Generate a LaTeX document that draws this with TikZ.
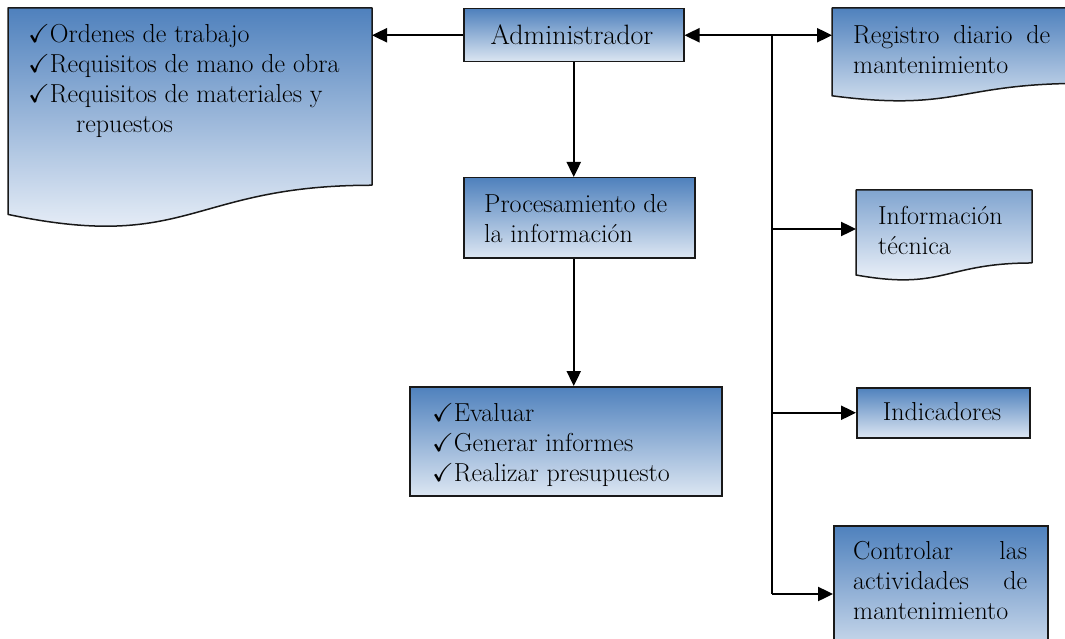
\documentclass[tikz,border=0pt]{standalone}
\usepackage{fontspec}
\usepackage{amssymb}
\usetikzlibrary{arrows.meta,calc}

\definecolor{topblue}{RGB}{79,129,189}
\definecolor{lightblue}{RGB}{220,230,242}
\definecolor{paleblue}{RGB}{247,249,253}
\definecolor{edge}{RGB}{25,25,25}

\newcommand\ck{$\checkmark$}
\newcommand\firstline{\rule{0pt}{19pt}}
% document shape (wavy bottom) drawn over the frame of a named node
\newcommand\docshape[3]{%
  \draw[docline, top color=#2, bottom color=#3]
    (#1.north west) -- (#1.north east)
    -- ($(#1.north east)!0.802!(#1.south east)$)
    .. controls ($(#1.north)!0.802!(#1.south)$) and ($(#1.north)!1.1075!(#1.south)$)
    .. ($(#1.north west)!0.934!(#1.south west)$) -- cycle;}

\tikzset{
  box/.style={draw=edge, line width=1.5pt, top color=topblue, bottom color=lightblue,
              inner sep=0pt, anchor=north west},
  frame/.style={draw=none, inner sep=0pt, outer sep=0pt, anchor=north west},
  docline/.style={draw=edge, line width=1.5pt, line join=round},
  tip/.tip={Triangle[length=15pt,width=14pt]},
  conn/.style={line width=2.4pt, -tip},
  trunk/.style={line width=2.4pt},
  txt/.style={font=\fontsize{26}{30}\selectfont, inner sep=0pt, align=left, anchor=north west},
}

\begin{document}
\begin{tikzpicture}[x=1pt,y=-1pt]
\useasboundingbox (0,0) rectangle (1065,639);
\clip (0,0) rectangle (1065,639);

% frames of the document-shaped blocks
\node[frame, minimum width=364pt, minimum height=221pt] (ord) at (8,8) {};
\node[frame, minimum width=250pt, minimum height=94pt] (reg) at (832,8) {};
\node[frame, minimum width=176pt, minimum height=91pt] (info) at (856,190) {};
\docshape{ord}{topblue}{paleblue}
\docshape{reg}{topblue}{lightblue}
\docshape{info}{topblue!65!lightblue}{paleblue}

% rectangular blocks
\node[box, minimum width=220pt, minimum height=53pt] (adm) at (463,8) {};
\node[box, minimum width=231pt, minimum height=80pt] (proc) at (463,177) {};
\node[box, minimum width=312pt, minimum height=109pt] (eval) at (409,386) {};
\node[box, minimum width=173pt, minimum height=50pt] (ind) at (856,387) {};
\node[box, minimum width=214pt, minimum height=140pt] (ctl) at (833,525) {};

% texts
\node[txt] (tord) at (28,23) {\firstline\ck Ordenes de trabajo\\
  \ck Requisitos de mano de obra\\
  \ck Requisitos de materiales y\\
  \hspace*{48pt}repuestos};
\node[txt, anchor=base, font=\fontsize{28}{30}\selectfont] (tadm) at (572,45) {Administrador};
\node[txt] (tproc) at (484,193) {\firstline Procesamiento de\\la información};
\node[txt] (teval) at (432,402) {\firstline\ck Evaluar\\\ck Generar informes\\\ck Realizar presupuesto};
\node[txt, text width=197pt] (treg) at (853,24) {\firstline Registro\hfill diario\hfill de\\mantenimiento};
\node[txt] (tinfo) at (878,205) {\firstline Información\\técnica};
\node[txt, anchor=base] (tind) at (942,420) {Indicadores};
\node[txt, text width=174pt] (tctl) at (853,540) {\firstline Controlar\hfill las\\actividades\hfill de\\mantenimiento};

% connectors
\coordinate (b0) at (772,36);
\coordinate (b1) at (772,229);
\coordinate (b3) at (772,594);
\draw[conn] (adm.west) -- (adm.west -| ord.east);
\draw[conn] (adm.south) -- (adm.south |- proc.north);
\draw[conn] (adm.south |- proc.south) -- (adm.south |- eval.north);
\draw[line width=2.4pt, tip-tip] (adm.east) -- (adm.east -| reg.west);
\draw[trunk] (b0) -- (b3);
\draw[conn] (b1) -- (b1 -| info.west);
\draw[conn] (ind.west -| b1) -- (ind.west);
\draw[conn] (b3) -- (b3 -| ctl.west);
\end{tikzpicture}
\end{document}
